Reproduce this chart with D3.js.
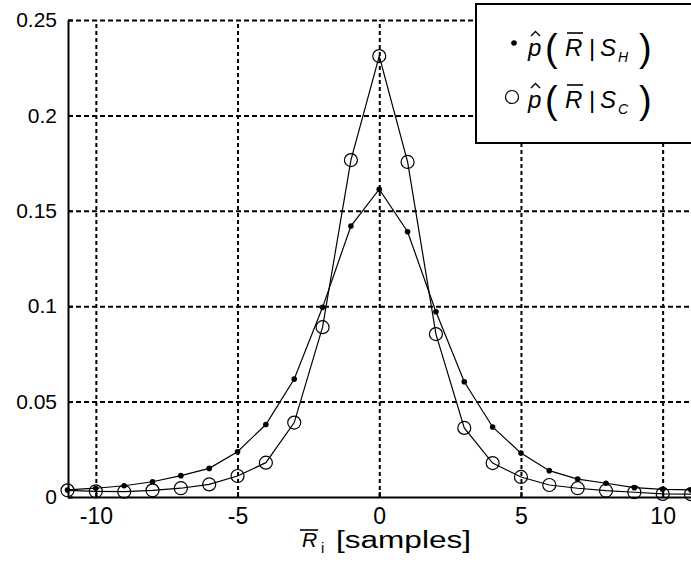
<!DOCTYPE html>
<html>
<head>
<meta charset="utf-8">
<script src="https://cdn.jsdelivr.net/npm/d3@7"></script>
<style>
  html, body { margin: 0; padding: 0; background: #fff; }
  svg { display: block; }
  text { font-family: "Liberation Sans", Arial, sans-serif; fill: #000; }
</style>
</head>
<body>
<svg id="chart" width="691" height="567"></svg>
<script>
// Lag positions (samples)
const lags = [-11, -10, -9, -8, -7, -6, -5, -4, -3, -2, -1, 0, 1, 2, 3, 4, 5, 6, 7, 8, 9, 10, 11];
// Estimated probability p(R | S_H)
const pH = [0.0037, 0.0046, 0.0059, 0.0080, 0.0112, 0.0150, 0.0237, 0.0380, 0.0618, 0.0994, 0.1420, 0.1613,
            0.1390, 0.0971, 0.0604, 0.0367, 0.0230, 0.0138, 0.0094, 0.0072, 0.0049, 0.0040, 0.0037];
// Estimated probability p(R | S_C)
const pC = [0.0035, 0.0030, 0.0028, 0.0035, 0.0046, 0.0066, 0.0110, 0.0180, 0.0390, 0.0890, 0.1766, 0.2311,
            0.1756, 0.0854, 0.0362, 0.0178, 0.0105, 0.0063, 0.0046, 0.0033, 0.0025, 0.0016, 0.0015];
// Axis ticks
const xTicks = [-10, -5, 0, 5, 10];
const xTickLabels = ["-10", "-5", "0", "5", "10"];
const yTicks = [0, 0.05, 0.1, 0.15, 0.2, 0.25];
const yTickLabels = ["0", "0.05", "0.1", "0.15", "0.2", "0.25"];

const svg = d3.select("#chart");
const plotLeft = 68, plotRight = 691, plotTop = 20, plotBottom = 497;

const x = d3.scaleLinear().domain([-11, 11]).range([plotLeft - 0.5, plotRight]);
const y = d3.scaleLinear().domain([0, 0.25]).range([plotBottom, plotTop]);

// Dashed grid
const grid = svg.append("g").attr("class", "grid");
grid.append("g")
  .attr("transform", `translate(0,${plotBottom})`)
  .call(d3.axisBottom(x).tickValues(xTicks).tickSize(-(plotBottom - plotTop)).tickFormat(""))
  .call(g => g.select(".domain").remove())
  .call(g => g.selectAll("line").attr("stroke", "#000").attr("stroke-width", 2).attr("stroke-dasharray", "4,3"));
grid.append("g")
  .attr("transform", `translate(${plotLeft},0)`)
  .call(d3.axisLeft(y).tickValues(yTicks.filter(v => v > 0)).tickSize(-(plotRight - plotLeft)).tickFormat(""))
  .call(g => g.select(".domain").remove())
  .call(g => g.selectAll("line").attr("stroke", "#000").attr("stroke-width", 2).attr("stroke-dasharray", "5,3"));

// Axes with inward ticks
const xAxis = svg.append("g")
  .attr("transform", `translate(0,${plotBottom})`)
  .call(d3.axisBottom(x).tickValues(xTicks).tickSize(-5).tickSizeOuter(0).tickPadding(11)
    .tickFormat((d, i) => xTickLabels[i]));
xAxis.select(".domain").attr("stroke-width", 2);
xAxis.selectAll("line").attr("stroke-width", 2);
xAxis.selectAll("text").attr("font-size", 23).attr("font-family", "Liberation Sans, Arial, sans-serif");

const yAxis = svg.append("g")
  .attr("transform", `translate(${plotLeft},0)`)
  .call(d3.axisLeft(y).tickValues(yTicks).tickSize(-5).tickSizeOuter(0).tickPadding(11)
    .tickFormat((d, i) => yTickLabels[i]));
yAxis.select(".domain").attr("stroke-width", 2);
yAxis.selectAll("line").attr("stroke-width", 2);
yAxis.selectAll("text").attr("font-size", 21).attr("font-family", "Liberation Sans, Arial, sans-serif");

// Series lines
const line = d3.line().x(d => x(d[0])).y(d => y(d[1]));
const dataH = lags.map((l, i) => [l, pH[i]]);
const dataC = lags.map((l, i) => [l, pC[i]]);

svg.append("path").datum(dataC).attr("d", line)
  .attr("fill", "none").attr("stroke", "#000").attr("stroke-width", 1.2);
svg.append("path").datum(dataH).attr("d", line)
  .attr("fill", "none").attr("stroke", "#000").attr("stroke-width", 1.2);

// Markers
svg.append("g").selectAll("circle").data(dataC).join("circle")
  .attr("cx", d => x(d[0])).attr("cy", d => y(d[1])).attr("r", 6.5)
  .attr("fill", "none").attr("stroke", "#000").attr("stroke-width", 1.2);
svg.append("g").selectAll("circle").data(dataH).join("circle")
  .attr("cx", d => x(d[0])).attr("cy", d => y(d[1])).attr("r", 2.8)
  .attr("fill", "#000");

// Legend
const lg = svg.append("g");
lg.append("rect").attr("x", 476).attr("y", 4).attr("width", 230).attr("height", 139)
  .attr("fill", "#fff").attr("stroke", "#000").attr("stroke-width", 2);

function legendLabel(baseY, sub) {
  const g = lg.append("g");
  g.append("text").attr("x", 528).attr("y", baseY).attr("font-size", 24).attr("font-style", "italic").text("p");
  g.append("path").attr("d", `M531,${baseY - 20} L535.5,${baseY - 24.5} L540,${baseY - 20}`)
    .attr("fill", "none").attr("stroke", "#000").attr("stroke-width", 1.4);
  g.append("text").attr("x", 545).attr("y", baseY + 5).attr("font-size", 38).text("(");
  g.append("text").attr("x", 565).attr("y", baseY).attr("font-size", 24).attr("font-style", "italic").text("R");
  g.append("line").attr("x1", 567).attr("x2", 583).attr("y1", baseY - 23).attr("y2", baseY - 23)
    .attr("stroke", "#000").attr("stroke-width", 1.6);
  g.append("text").attr("x", 589).attr("y", baseY).attr("font-size", 24).text("|");
  g.append("text").attr("x", 600).attr("y", baseY).attr("font-size", 24).attr("font-style", "italic").text("S");
  g.append("text").attr("x", 618).attr("y", baseY + 6).attr("font-size", 14).attr("font-style", "italic").text(sub);
  g.append("text").attr("x", 639).attr("y", baseY + 5).attr("font-size", 38).text(")");
}
lg.append("circle").attr("cx", 514).attr("cy", 43).attr("r", 2.8).attr("fill", "#000");
legendLabel(56, "H");
lg.append("circle").attr("cx", 512).attr("cy", 97).attr("r", 6.5)
  .attr("fill", "none").attr("stroke", "#000").attr("stroke-width", 1.2);
legendLabel(108, "C");

// X axis title: overlined R with subscript i
const xt = svg.append("g");
xt.append("text").attr("x", 302).attr("y", 547).attr("font-size", 21).attr("font-style", "italic").text("R");
xt.append("line").attr("x1", 300).attr("x2", 318).attr("y1", 530).attr("y2", 530)
  .attr("stroke", "#000").attr("stroke-width", 1.6);
xt.append("text").attr("x", 321).attr("y", 553).attr("font-size", 15).text("i");
xt.append("text").attr("x", 336).attr("y", 548).attr("font-size", 23)
  .attr("textLength", 135).attr("lengthAdjust", "spacingAndGlyphs").text("[samples]");
</script>
</body>
</html>
